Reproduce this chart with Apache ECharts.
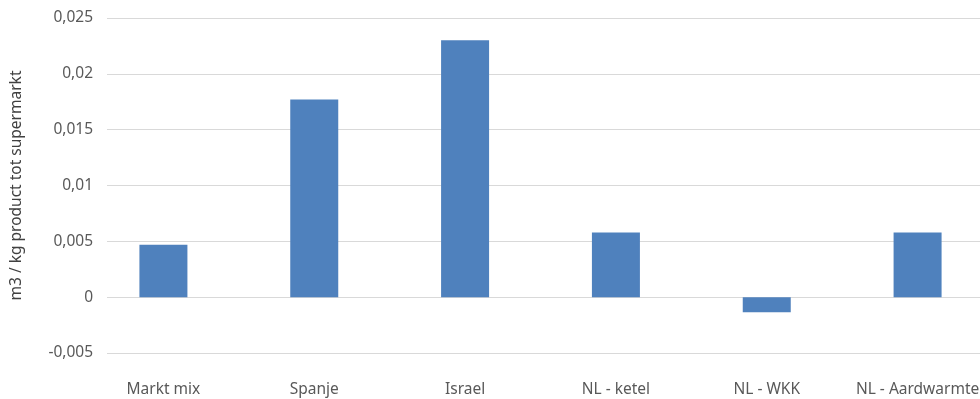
<!DOCTYPE html>
<html>
<head>
<meta charset="utf-8">
<script src="https://cdn.jsdelivr.net/npm/echarts@6/dist/echarts.min.js"></script>
<style>html,body{margin:0;padding:0;background:#fff;overflow:hidden;}#c{width:993px;height:399px;}</style>
</head>
<body>
<div id="c"></div>
<script>
var categories = ['Markt mix', 'Spanje', 'Israel', 'NL - ketel', 'NL - WKK', 'NL - Aardwarmte'];
var values = [0.0047, 0.0177, 0.0230, 0.0058, -0.00135, 0.0058];
var yMin = -0.005, yMax = 0.025, yStep = 0.005;
var yName = 'm3 / kg product tot supermarkt';

var chart = echarts.init(document.getElementById('c'));
var font = 'Noto Sans';
function fmt(v) {
  if (Math.abs(v) < 1e-12) return '0';
  return String(+v.toFixed(3)).replace('.', ',');
}
chart.setOption({
  animation: false,
  grid: [
    { left: 107, right: 0, top: 18, bottom: 46 },
    { left: 88, right: 0, top: 18, bottom: 46 }
  ],
  xAxis: [
    { gridIndex: 0, type: 'value', show: false },
    { gridIndex: 1, type: 'category', data: categories,
      axisLine: { show: false }, axisTick: { show: false },
      axisLabel: { interval: 0, hideOverlap: false, margin: 29, color: '#595959', fontFamily: font, fontSize: 15.5 } }
  ],
  yAxis: [
    { gridIndex: 0, type: 'value', min: yMin, max: yMax, interval: yStep,
      name: yName, nameLocation: 'middle', nameGap: 82,
      nameTextStyle: { color: '#404040', fontFamily: font, fontSize: 15.5 },
      axisLine: { show: false }, axisTick: { show: false },
      axisLabel: { margin: 14, color: '#595959', fontFamily: font, fontSize: 15.5, formatter: fmt },
      splitLine: { lineStyle: { color: '#d9d9d9', width: 1 } } },
    { gridIndex: 1, type: 'value', min: yMin, max: yMax, interval: yStep, show: false,
      splitLine: { show: false } }
  ],
  series: [{
    type: 'bar', xAxisIndex: 1, yAxisIndex: 1, data: values, barWidth: 48,
    itemStyle: { color: '#4f81bd' }
  }]
});
</script>
</body>
</html>
